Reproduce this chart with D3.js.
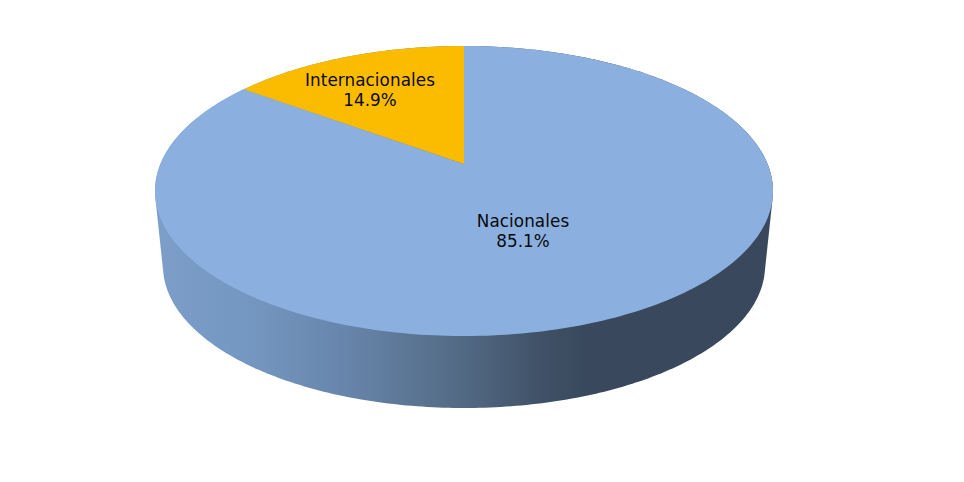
<!DOCTYPE html>
<html><head><meta charset="utf-8">
<script src="https://cdn.jsdelivr.net/npm/d3@7"></script>
<style>html,body{margin:0;padding:0;background:#fff}svg{display:block}text{font-family:"DejaVu Sans",Verdana,sans-serif;font-size:16.8px;letter-spacing:.08px;fill:#0a0a0a;text-anchor:middle}</style>
</head><body><svg id="c" width="964" height="482"></svg>
<script>
const categories=["Nacionales","Internacionales"];
const values=[85.1,14.9];
const colors=["#8bb0df","#fbbc00"];
const sideStops=[[0,"#7c9ec9"],[0.15,"#7497c1"],[0.3,"#6886ac"],[0.5,"#526983"],[0.62,"#405268"],[0.7,"#39485c"],[1,"#39485c"]];
const labelPos=[[523,221],[370,80]];
// perspective geometry of the disc
const cx=464,apexY=164,persp=-0.1862,ryP=140,rxP=303.6;
const rxTop=309;
const cyBot=266,rxBot=301,ryBot=142;
const svg=d3.select("#c");
const g=svg.append("defs").append("linearGradient").attr("id","side").attr("gradientUnits","userSpaceOnUse")
 .attr("x1",cx-rxTop).attr("x2",cx+rxTop).attr("y1",0).attr("y2",0);
sideStops.forEach(s=>g.append("stop").attr("offset",s[0]).attr("stop-color",s[1]));
const project=t=>{const u=Math.sin(t),v=-Math.cos(t),w=1+persp*v;return [cx+rxP*u/w,apexY+ryP*v/w];};
const line=d3.line();
const deg=d3.range(0,360).map(i=>i*Math.PI/180);
const topPts=deg.map(project);
const botPts=deg.map(t=>[cx+rxBot*Math.cos(t),cyBot+ryBot*Math.sin(t)]);
const hull=d3.polygonHull(topPts.concat(botPts));
svg.append("path").attr("d",line(hull)+"Z").attr("fill","url(#side)");
d3.pie().sort(null).value(d=>d).startAngle(0).endAngle(2*Math.PI)(values).forEach((d,i)=>{
  const n=Math.ceil((d.endAngle-d.startAngle)*180/Math.PI);
  const pts=[[cx,apexY]].concat(d3.range(n+1).map(k=>project(d.startAngle+(d.endAngle-d.startAngle)*k/n)));
  svg.append("path").attr("d",line(pts)+"Z").attr("fill",colors[i]);
});
categories.forEach((c,i)=>{
  const t=svg.append("text").attr("y",labelPos[i][1]+6);
  t.append("tspan").attr("x",labelPos[i][0]).text(c);
  t.append("tspan").attr("x",labelPos[i][0]).attr("dy",20).text(values[i].toFixed(1)+"%");
});
</script></body></html>
